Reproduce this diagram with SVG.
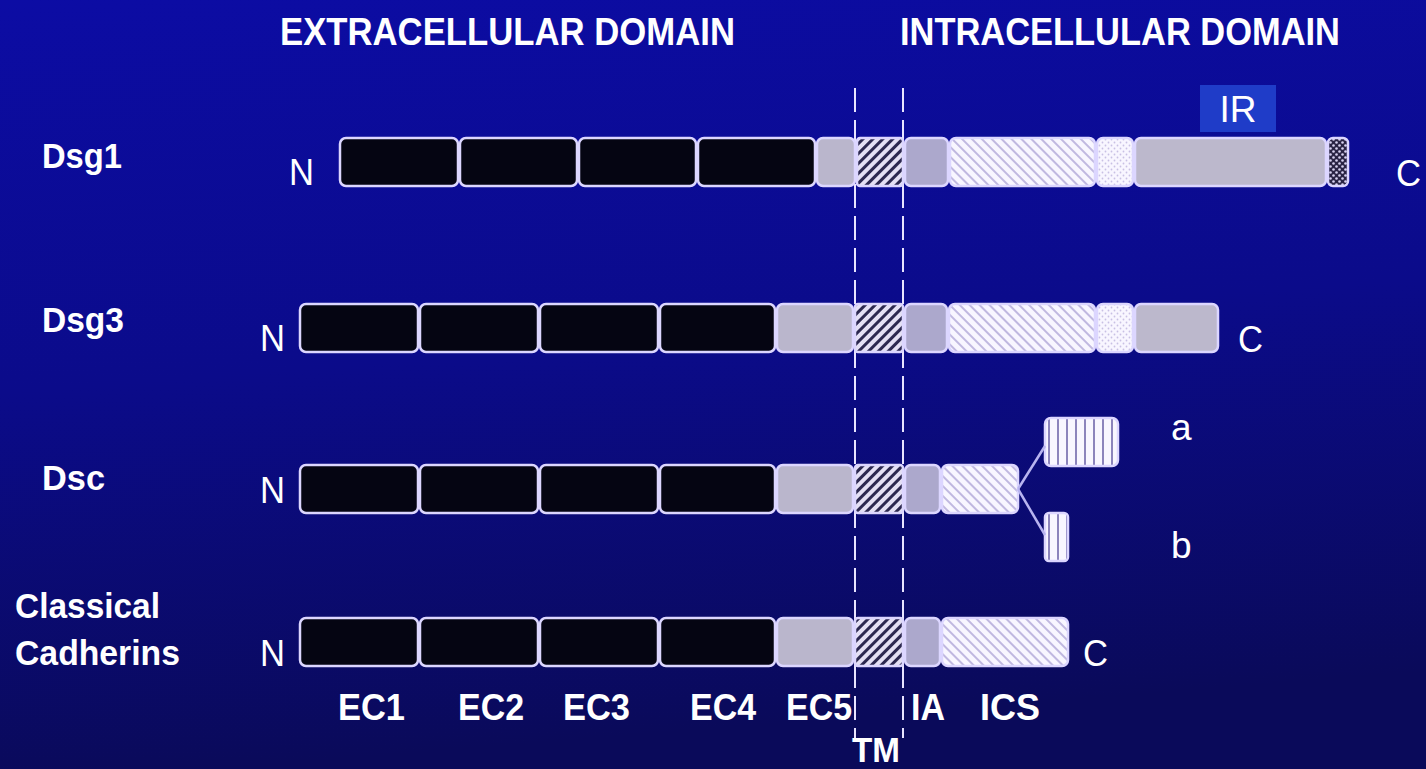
<svg xmlns="http://www.w3.org/2000/svg" width="1426" height="769" viewBox="0 0 1426 769">
  <defs>
    <linearGradient id="bg" x1="0" y1="0" x2="0.15" y2="1">
      <stop offset="0" stop-color="#0c0ca4"/>
      <stop offset="0.5" stop-color="#0b0b8a"/>
      <stop offset="1" stop-color="#0a0a5a"/>
    </linearGradient>
    <!-- transmembrane: dark "/" hatch -->
    <pattern id="tm" width="7" height="7" patternUnits="userSpaceOnUse" patternTransform="rotate(45)">
      <rect width="7" height="7" fill="#e4e0f4"/>
      <rect width="3" height="7" fill="#2c2850"/>
    </pattern>
    <!-- catenin-binding segment: light "\" hatch -->
    <pattern id="ics" width="7" height="7" patternUnits="userSpaceOnUse" patternTransform="rotate(-45)">
      <rect width="7" height="7" fill="#f8f6ff"/>
      <rect width="2" height="7" fill="#c0b8e0"/>
    </pattern>
    <!-- fine dotted segment -->
    <pattern id="dots" width="6" height="6" patternUnits="userSpaceOnUse">
      <rect width="6" height="6" fill="#f8f6ff"/>
      <circle cx="1.5" cy="1.5" r="0.9" fill="#c8c0e4"/>
      <circle cx="4.5" cy="4.5" r="0.9" fill="#c8c0e4"/>
    </pattern>
    <!-- dark checker terminal segment -->
    <pattern id="check" width="6" height="6" patternUnits="userSpaceOnUse">
      <rect width="6" height="6" fill="#2a2444"/>
      <circle cx="1.5" cy="1.5" r="1.3" fill="#d8d2f0"/>
      <circle cx="4.5" cy="4.5" r="1.3" fill="#d8d2f0"/>
    </pattern>
    <!-- vertical stripes for splice variants -->
    <pattern id="vstripe" width="9" height="9" patternUnits="userSpaceOnUse">
      <rect width="9" height="9" fill="#f8f6ff"/>
      <rect x="4" width="2" height="9" fill="#8c84bc"/>
    </pattern>
  </defs>
  <style>
    .lbl { font-family: "Liberation Sans", Arial, sans-serif; font-weight: bold; fill: #ffffff; }
    .hdr { font-size: 38px; }
    .row { font-size: 35px; }
    .dom { font-size: 37px; }
    .end { font-family: "Liberation Sans", Arial, sans-serif; font-size: 37px; fill: #ffffff; }
    .seg { stroke: #dcd6ff; stroke-width: 2.5; }
    .ec { fill: #050512; }
    .ec5 { fill: #bab6cc; }
    .tm { fill: url(#tm); }
    .ia { fill: #aca8cc; }
    .ics { fill: url(#ics); }
    .dots { fill: url(#dots); }
    .ir { fill: #bcb8cc; }
    .chk { fill: url(#check); }
    .vs { fill: url(#vstripe); }
    .guide { stroke: #e8e4ff; stroke-width: 2; stroke-dasharray: 24 8; fill: none; }
    .link { stroke: #b8b4f0; stroke-width: 2.5; fill: none; }
  </style>

  <rect width="1426" height="769" fill="url(#bg)"/>

  <!-- domain headings -->
  <g id="headings">
    <text class="lbl hdr" x="280" y="45" textLength="455" lengthAdjust="spacingAndGlyphs">EXTRACELLULAR DOMAIN</text>
    <text class="lbl hdr" x="900" y="45" textLength="440" lengthAdjust="spacingAndGlyphs">INTRACELLULAR DOMAIN</text>
  </g>

  <!-- membrane boundaries -->
  <g id="guides">
    <line class="guide" x1="855" y1="88" x2="855" y2="738"/>
    <line class="guide" x1="903" y1="88" x2="903" y2="738"/>
  </g>

  <!-- Dsg1 -->
  <g id="dsg1">
    <text class="lbl row" x="42" y="168" textLength="80" lengthAdjust="spacingAndGlyphs">Dsg1</text>
    <text class="end" x="289" y="185" textLength="25" lengthAdjust="spacingAndGlyphs">N</text>
    <rect class="seg ec" x="340" y="138" width="118" height="48" rx="6"/>
    <rect class="seg ec" x="460" y="138" width="117" height="48" rx="6"/>
    <rect class="seg ec" x="579" y="138" width="117" height="48" rx="6"/>
    <rect class="seg ec" x="698" y="138" width="117" height="48" rx="6"/>
    <rect class="seg ec5" x="817" y="138" width="38" height="48" rx="6"/>
    <rect class="seg tm" x="857" y="138" width="46" height="48" rx="3"/>
    <rect class="seg ia" x="905" y="138" width="43" height="48" rx="6"/>
    <rect class="seg ics" x="950" y="138" width="145" height="48" rx="6"/>
    <rect class="seg dots" x="1097" y="138" width="36" height="48" rx="6"/>
    <rect class="seg ir" x="1135" y="138" width="191" height="48" rx="6"/>
    <rect class="seg chk" x="1328" y="138" width="20" height="48" rx="5"/>
    <rect x="1200" y="85" width="76" height="47" fill="#1f3cc8"/>
    <text class="end" x="1238" y="122" text-anchor="middle" font-size="36">IR</text>
    <text class="end" x="1396" y="186" textLength="25" lengthAdjust="spacingAndGlyphs">C</text>
  </g>

  <!-- Dsg3 -->
  <g id="dsg3">
    <text class="lbl row" x="42" y="332" textLength="82" lengthAdjust="spacingAndGlyphs">Dsg3</text>
    <text class="end" x="260" y="351" textLength="25" lengthAdjust="spacingAndGlyphs">N</text>
    <rect class="seg ec" x="300" y="304" width="118" height="48" rx="6"/>
    <rect class="seg ec" x="420" y="304" width="118" height="48" rx="6"/>
    <rect class="seg ec" x="540" y="304" width="118" height="48" rx="6"/>
    <rect class="seg ec" x="660" y="304" width="115" height="48" rx="6"/>
    <rect class="seg ec5" x="777" y="304" width="76" height="48" rx="6"/>
    <rect class="seg tm" x="855" y="304" width="48" height="48" rx="3"/>
    <rect class="seg ia" x="905" y="304" width="42" height="48" rx="6"/>
    <rect class="seg ics" x="949" y="304" width="146" height="48" rx="6"/>
    <rect class="seg dots" x="1097" y="304" width="36" height="48" rx="6"/>
    <rect class="seg ir" x="1135" y="304" width="83" height="48" rx="6"/>
    <text class="end" x="1238" y="352" textLength="25" lengthAdjust="spacingAndGlyphs">C</text>
  </g>

  <!-- Dsc -->
  <g id="dsc">
    <text class="lbl row" x="42" y="490" textLength="63" lengthAdjust="spacingAndGlyphs">Dsc</text>
    <text class="end" x="260" y="503" textLength="25" lengthAdjust="spacingAndGlyphs">N</text>
    <rect class="seg ec" x="300" y="465" width="118" height="48" rx="6"/>
    <rect class="seg ec" x="420" y="465" width="118" height="48" rx="6"/>
    <rect class="seg ec" x="540" y="465" width="118" height="48" rx="6"/>
    <rect class="seg ec" x="660" y="465" width="115" height="48" rx="6"/>
    <rect class="seg ec5" x="777" y="465" width="76" height="48" rx="6"/>
    <rect class="seg tm" x="855" y="465" width="48" height="48" rx="3"/>
    <rect class="seg ia" x="905" y="465" width="35" height="48" rx="6"/>
    <rect class="seg ics" x="942" y="465" width="76" height="48" rx="6"/>
  </g>

  <!-- Dsc splice variants -->
  <g id="dsc-a">
    <rect class="seg vs" x="1045" y="418" width="73" height="48" rx="6"/>
    <text class="end" x="1171" y="440" font-size="40">a</text>
  </g>
  <g id="dsc-b">
    <rect class="seg vs" x="1045" y="513" width="23" height="48" rx="4"/>
    <text class="end" x="1171" y="558" font-size="38">b</text>
  </g>

  <g id="connectors">
    <line class="link" x1="1018" y1="489" x2="1045" y2="446"/>
    <line class="link" x1="1018" y1="489" x2="1045" y2="535"/>
  </g>

  <!-- Classical cadherins -->
  <g id="classical">
    <text class="lbl row" x="15" y="618" textLength="145" lengthAdjust="spacingAndGlyphs">Classical</text>
    <text class="lbl row" x="15" y="665" textLength="165" lengthAdjust="spacingAndGlyphs">Cadherins</text>
    <text class="end" x="260" y="666" textLength="25" lengthAdjust="spacingAndGlyphs">N</text>
    <rect class="seg ec" x="300" y="618" width="118" height="48" rx="6"/>
    <rect class="seg ec" x="420" y="618" width="118" height="48" rx="6"/>
    <rect class="seg ec" x="540" y="618" width="118" height="48" rx="6"/>
    <rect class="seg ec" x="660" y="618" width="115" height="48" rx="6"/>
    <rect class="seg ec5" x="777" y="618" width="76" height="48" rx="6"/>
    <rect class="seg tm" x="855" y="618" width="48" height="48" rx="3"/>
    <rect class="seg ia" x="905" y="618" width="35" height="48" rx="6"/>
    <rect class="seg ics" x="942" y="618" width="126" height="48" rx="6"/>
    <text class="end" x="1083" y="666" textLength="25" lengthAdjust="spacingAndGlyphs">C</text>
  </g>

  <!-- domain labels -->
  <g id="domain-labels">
    <text class="lbl dom" x="338" y="720" textLength="67" lengthAdjust="spacingAndGlyphs">EC1</text>
    <text class="lbl dom" x="458" y="720" textLength="66" lengthAdjust="spacingAndGlyphs">EC2</text>
    <text class="lbl dom" x="563" y="720" textLength="67" lengthAdjust="spacingAndGlyphs">EC3</text>
    <text class="lbl dom" x="690" y="720" textLength="66" lengthAdjust="spacingAndGlyphs">EC4</text>
    <text class="lbl dom" x="786" y="720" textLength="66" lengthAdjust="spacingAndGlyphs">EC5</text>
    <text class="lbl" x="852" y="762" font-size="35" textLength="48" lengthAdjust="spacingAndGlyphs">TM</text>
    <text class="lbl dom" x="911" y="720" textLength="34" lengthAdjust="spacingAndGlyphs">IA</text>
    <text class="lbl dom" x="980" y="720" textLength="60" lengthAdjust="spacingAndGlyphs">ICS</text>
  </g>
</svg>
